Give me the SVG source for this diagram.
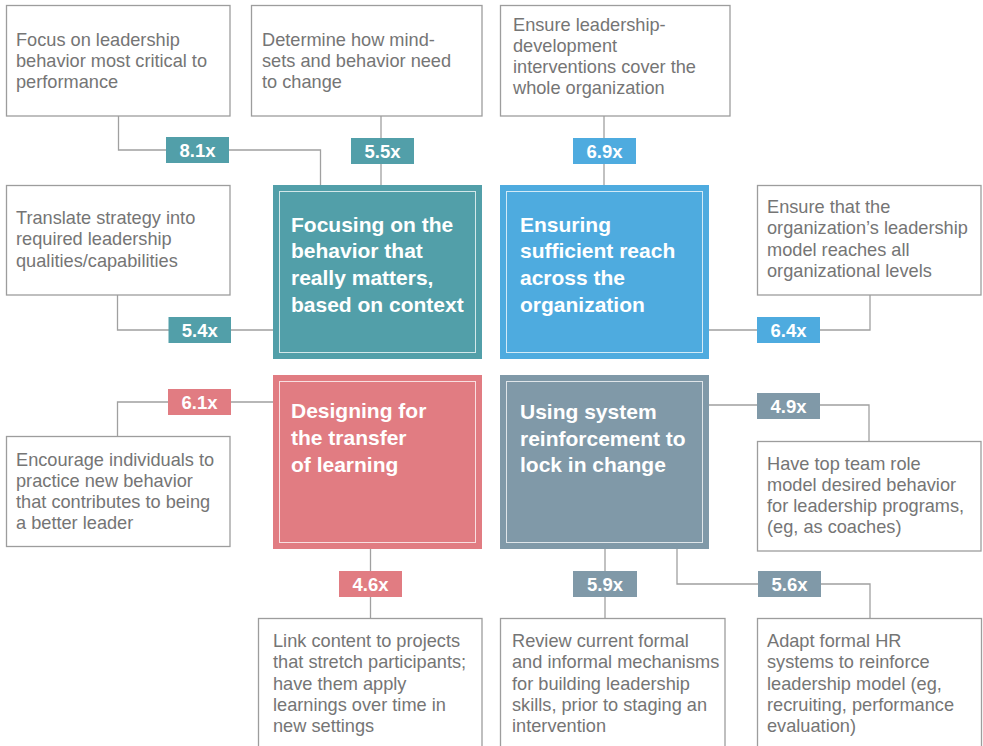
<svg xmlns="http://www.w3.org/2000/svg" width="983" height="746" viewBox="0 0 983 746">
<style>
.box{fill:#fff;stroke:#9d9d9d;stroke-width:1.3}
.t{font-family:"Liberation Sans",Arial,sans-serif;font-size:18.2px;fill:#757575}
.title{font-family:"Liberation Sans",Arial,sans-serif;font-size:21px;font-weight:bold;fill:#fff}
.inner{fill:none;stroke:#fff;stroke-opacity:0.75;stroke-width:1}
.badge text{font-family:"Liberation Sans",Arial,sans-serif;font-size:18.5px;font-weight:bold;fill:#fff;text-anchor:middle}
.teal{fill:#529fa9}
.blue{fill:#4eabdf}
.pink{fill:#e17c82}
.slate{fill:#8099a8}
#connectors path{fill:none;stroke:#a0a0a0;stroke-width:1.3}
</style>
<g id="connectors">
<path d="M118.5 116V150H166M229 150H320.5V185"/>
<path d="M381 116V138M381 164V185"/>
<path d="M604 116V138M604 164V185"/>
<path d="M117.5 295V330H169M231 330H273"/>
<path d="M709 330H757M820 330H870V295"/>
<path d="M273 402H231M168 402H117.5V436"/>
<path d="M709 405H757M820 405H869V441"/>
<path d="M370.5 549V571M370.5 597V618"/>
<path d="M605 549V571M605 597V618"/>
<path d="M677 549V584H758M821 584H870V618"/>
</g>
<g id="box1"><rect class="box" x="6.5" y="5.5" width="223.5" height="110.5"/>
<text class="t" x="16"><tspan x="16" y="46">Focus on leadership</tspan><tspan x="16" y="67">behavior most critical to</tspan><tspan x="16" y="88">performance</tspan></text></g>
<g id="box2"><rect class="box" x="251.5" y="5.5" width="230.5" height="110.5"/>
<text class="t"><tspan x="262" y="46">Determine how mind-</tspan><tspan x="262" y="67">sets and behavior need</tspan><tspan x="262" y="88">to change</tspan></text></g>
<g id="box3"><rect class="box" x="500.5" y="5.5" width="229.5" height="110.5"/>
<text class="t"><tspan x="513" y="31">Ensure leadership-</tspan><tspan x="513" y="52">development</tspan><tspan x="513" y="73">interventions cover the</tspan><tspan x="513" y="94">whole organization</tspan></text></g>
<g id="box4"><rect class="box" x="6.5" y="185.5" width="223.5" height="109.5"/>
<text class="t"><tspan x="16" y="224">Translate strategy into</tspan><tspan x="16" y="245">required leadership</tspan><tspan x="16" y="267">qualities/capabilities</tspan></text></g>
<g id="box5"><rect class="box" x="757.5" y="185.5" width="223.5" height="109.5"/>
<text class="t"><tspan x="767" y="213">Ensure that the</tspan><tspan x="767" y="234">organization’s leadership</tspan><tspan x="767" y="256">model reaches all</tspan><tspan x="767" y="277">organizational levels</tspan></text></g>
<g id="box6"><rect class="box" x="6.5" y="436.5" width="223.5" height="110"/>
<text class="t"><tspan x="16" y="466">Encourage individuals to</tspan><tspan x="16" y="487">practice new behavior</tspan><tspan x="16" y="508">that contributes to being</tspan><tspan x="16" y="529">a better leader</tspan></text></g>
<g id="box7"><rect class="box" x="757.5" y="441.5" width="223.5" height="109.5"/>
<text class="t"><tspan x="767" y="470">Have top team role</tspan><tspan x="767" y="491">model desired behavior</tspan><tspan x="767" y="512">for leadership programs,</tspan><tspan x="767" y="533">(eg, as coaches)</tspan></text></g>
<g id="box8"><rect class="box" x="258.5" y="618.5" width="223.5" height="150"/>
<text class="t"><tspan x="273" y="647">Link content to projects</tspan><tspan x="273" y="668">that stretch participants;</tspan><tspan x="273" y="690">have them apply</tspan><tspan x="273" y="711">learnings over time in</tspan><tspan x="273" y="732">new settings</tspan></text></g>
<g id="box9"><rect class="box" x="500.5" y="618.5" width="224.5" height="150"/>
<text class="t"><tspan x="512" y="647">Review current formal</tspan><tspan x="512" y="668">and informal mechanisms</tspan><tspan x="512" y="690">for building leadership</tspan><tspan x="512" y="711">skills, prior to staging an</tspan><tspan x="512" y="732">intervention</tspan></text></g>
<g id="box10"><rect class="box" x="757.5" y="618.5" width="224" height="150"/>
<text class="t"><tspan x="767" y="647">Adapt formal HR</tspan><tspan x="767" y="668">systems to reinforce</tspan><tspan x="767" y="690">leadership model (eg,</tspan><tspan x="767" y="711">recruiting, performance</tspan><tspan x="767" y="732">evaluation)</tspan></text></g>
<g id="center1"><rect class="teal" x="273" y="185" width="209" height="174"/><rect class="inner" x="279.5" y="191.5" width="196" height="161"/>
<text class="title"><tspan x="291" y="232">Focusing on the</tspan><tspan x="291" y="258">behavior that</tspan><tspan x="291" y="285">really matters,</tspan><tspan x="291" y="312">based on context</tspan></text></g>
<g id="center2"><rect class="blue" x="500" y="185" width="209" height="174"/><rect class="inner" x="506.5" y="191.5" width="196" height="161"/>
<text class="title"><tspan x="520" y="232">Ensuring</tspan><tspan x="520" y="258">sufficient reach</tspan><tspan x="520" y="285">across the</tspan><tspan x="520" y="312">organization</tspan></text></g>
<g id="center3"><rect class="pink" x="273" y="375" width="209" height="174"/><rect class="inner" x="279.5" y="381.5" width="196" height="161"/>
<text class="title"><tspan x="291" y="418">Designing for</tspan><tspan x="291" y="445">the transfer</tspan><tspan x="291" y="472">of learning</tspan></text></g>
<g id="center4"><rect class="slate" x="500" y="375" width="209" height="174"/><rect class="inner" x="506.5" y="381.5" width="196" height="161"/>
<text class="title"><tspan x="520" y="419">Using system</tspan><tspan x="520" y="446">reinforcement to</tspan><tspan x="520" y="472">lock in change</tspan></text></g>
<g id="badge81" class="badge"><rect class="teal" x="166" y="137" width="63" height="26"/><text x="197.5" y="157">8.1x</text></g>
<g id="badge55" class="badge"><rect class="teal" x="351" y="138" width="63" height="26"/><text x="382.5" y="158">5.5x</text></g>
<g id="badge69" class="badge"><rect class="blue" x="573" y="138" width="63" height="26"/><text x="604.5" y="158">6.9x</text></g>
<g id="badge54" class="badge"><rect class="teal" x="168.5" y="317" width="62.5" height="26"/><text x="199.75" y="337">5.4x</text></g>
<g id="badge64" class="badge"><rect class="blue" x="757" y="317" width="63" height="26"/><text x="788.5" y="337">6.4x</text></g>
<g id="badge61" class="badge"><rect class="pink" x="168" y="389" width="63" height="26"/><text x="199.5" y="409">6.1x</text></g>
<g id="badge49" class="badge"><rect class="slate" x="757" y="393" width="63" height="26"/><text x="788.5" y="413">4.9x</text></g>
<g id="badge46" class="badge"><rect class="pink" x="339" y="571" width="63" height="26"/><text x="370.5" y="591">4.6x</text></g>
<g id="badge59" class="badge"><rect class="slate" x="573" y="571" width="64" height="26"/><text x="605" y="591">5.9x</text></g>
<g id="badge56" class="badge"><rect class="slate" x="758" y="571" width="63" height="26"/><text x="789.5" y="591">5.6x</text></g>
</svg>
